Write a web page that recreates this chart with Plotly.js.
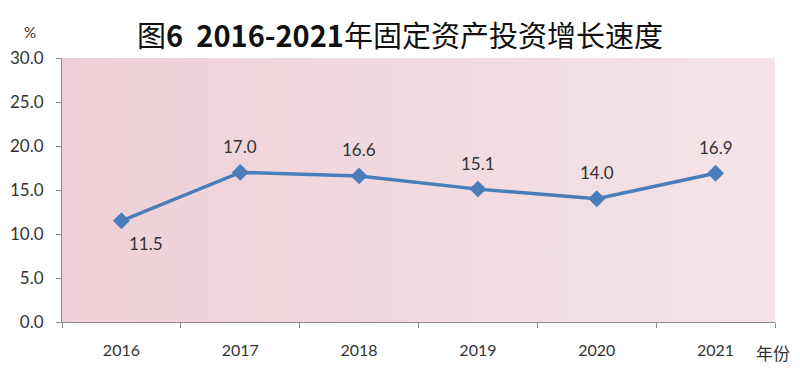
<!DOCTYPE html>
<html><head><meta charset="utf-8">
<script src="https://cdn.plot.ly/plotly-3.0.1.min.js"></script>
<style>html,body{margin:0;padding:0;background:#fff}#c{width:800px;height:372px}</style>
</head><body><div id="c"></div>
<script>
const years = ['2016','2017','2018','2019','2020','2021'];
const growth = [11.5, 17.0, 16.6, 15.1, 14.0, 16.9];
const yTicks = [0,5,10,15,20,25,30];

const svg = "<svg xmlns='http://www.w3.org/2000/svg' width='100' height='100' preserveAspectRatio='none'><defs><linearGradient id='g' x1='0' y1='0' x2='1' y2='0'><stop offset='0' stop-color='#efcfd7'/><stop offset='1' stop-color='#f4e4e8'/></linearGradient></defs><rect width='100' height='100' fill='url(#g)'/></svg>";
const bg = 'data:image/svg+xml;charset=utf-8,' + encodeURIComponent(svg);

const numFont = 'Lato, Noto Sans, sans-serif';

const trace = {
  x: years, y: growth, type: 'scatter', mode: 'lines+markers',
  line: {color: '#4a7ebb', width: 3.5},
  marker: {symbol: 'diamond', size: 13, color: '#4a7ebb'},
  cliponaxis: false, hoverinfo: 'skip'
};

// category axis: annotate by category index
const labelAnns = growth.map((v, i) => ({
  x: i, y: v, xref: 'x', yref: 'y', text: v.toFixed(1), showarrow: false,
  xshift: i === 0 ? 25 : 0, yshift: i === 0 ? -23 : 26,
  font: {family: numFont, size: 17, color: '#333'}
}));

const layout = {
  width: 800, height: 372,
  margin: {l: 62, r: 25, t: 58, b: 50},
  paper_bgcolor: '#fff', plot_bgcolor: 'rgba(0,0,0,0)',
  showlegend: false,
  font: {family: numFont, color: '#333'},
  title: {
    text: '图<b>6  2016-2021</b>年固定资产投资增长速度',
    font: {family: 'Noto Sans CJK SC, sans-serif', size: 29, color: '#111'},
    x: 0.5, xanchor: 'center', y: 0.9, yanchor: 'middle', yref: 'container'
  },
  images: [{source: bg, xref: 'paper', yref: 'paper', x: 0, y: 1, sizex: 1, sizey: 1,
            xanchor: 'left', yanchor: 'top', sizing: 'stretch', layer: 'below'}],
  xaxis: {
    type: 'category', range: [-0.5, 5.5],
    showline: true, linecolor: '#8c8c8c', linewidth: 1,
    ticks: 'outside', ticklen: 5, tickcolor: '#8c8c8c', tickson: 'boundaries',
    ticklabelstandoff: 14,
    showgrid: false, zeroline: false,
    tickfont: {family: numFont, size: 16, color: '#333'}
  },
  yaxis: {
    range: [0, 30], tickvals: yTicks, ticktext: yTicks.map(v => v.toFixed(1)),
    showline: true, linecolor: '#8c8c8c', linewidth: 1,
    ticks: 'outside', ticklen: 5, tickcolor: '#8c8c8c',
    ticklabelstandoff: 9,
    showgrid: false, zeroline: false,
    tickfont: {family: numFont, size: 17, color: '#333'}
  },
  annotations: labelAnns.concat([
    {text: '%', xref: 'paper', yref: 'paper', x: -0.056, y: 1.1, yanchor: 'middle', showarrow: false,
     font: {family: numFont, size: 15, color: '#333'}},
    {text: '年份', xref: 'paper', yref: 'paper', x: 0.9975, y: -0.114, xanchor: 'center', yanchor: 'middle', showarrow: false,
     font: {family: 'Noto Sans CJK SC, sans-serif', size: 17, color: '#333'}}
  ])
};

Plotly.newPlot('c', [trace], layout, {displayModeBar: false, staticPlot: true});
</script></body></html>
